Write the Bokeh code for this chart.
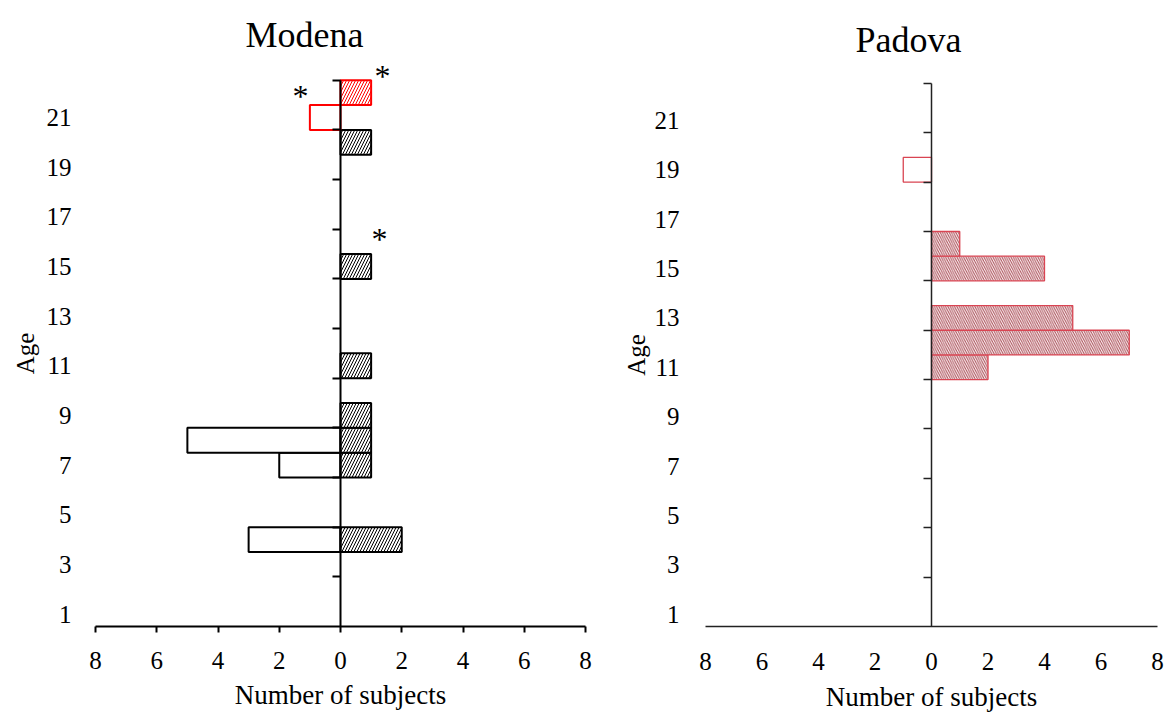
import math
from bokeh.plotting import figure
from bokeh.models import Range1d, FixedTicker, LinearAxis, Label
from bokeh.layouts import row
from bokeh.embed import file_html
from bokeh.resources import INLINE
from bokeh.core.properties import value

FONT = "Liberation Serif"

# ---- data ----
age_labels = [1, 3, 5, 7, 9, 11, 13, 15, 17, 19, 21]
age_bounds = [2.5, 4.5, 6.5, 8.5, 10.5, 12.5, 14.5, 16.5, 18.5, 20.5, 22.5]
age_lo, age_hi = 0.5, 22.5
x_lo, x_hi = -8, 8
x_ticks = [-8, -6, -4, -2, 0, 2, 4, 6, 8]
x_tick_text = ["8", "6", "4", "2", "0", "2", "4", "6", "8"]

# Modena
mod_hatch_ages = [4, 7, 8, 9, 11, 15, 20]
mod_hatch_vals = [2, 1, 1, 1, 1, 1, 1]
mod_open_ages = [4, 7, 8]
mod_open_vals = [3, 2, 5]
mod_red_hatch_ages = [22]
mod_red_hatch_vals = [1]
mod_red_open_ages = [21]
mod_red_open_vals = [1]
mod_star_x = [1.37, -1.31, 1.27]
mod_star_y = [22.7, 21.9, 16.16]

# Padova
pad_hatch_ages = [11, 12, 13, 15, 16]
pad_hatch_vals = [2, 7, 5, 4, 1]
pad_open_ages = [19]
pad_open_vals = [1]

HEIGHT = 714


def age_range(top_px, bottom_px):
    plot_h = HEIGHT - bottom_px - top_px
    ys = (age_hi - age_lo) / plot_h
    return Range1d(age_lo, age_hi + top_px * ys)


def age_title_fig(width, text_x, yr, bottom_px):
    # narrow strip holding the rotated "Age" axis title, sharing the age scale
    f = figure(width=width, height=HEIGHT, output_backend="svg", toolbar_location=None,
               x_range=Range1d(0, width), y_range=yr,
               x_axis_location=None, y_axis_location=None,
               min_border_left=0, min_border_right=0, min_border_top=0,
               min_border_bottom=bottom_px,
               background_fill_color="white", border_fill_color="white")
    f.outline_line_color = None
    f.grid.visible = False
    f.text(x=[text_x], y=[(age_lo + age_hi) / 2], text=["Age"], angle=math.pi / 2,
           text_font=value(FONT), text_font_size="25px", text_color="black",
           text_align="center", text_baseline="middle")
    return f


def base_fig(title, title_dx, title_dy, width, yr, mbl, mbr, mbb, axis_w, axis_col,
             label_standoff, xlabel_standoff, age_standoff, xtick_out):
    # the frame reaches the top of the canvas so the title and the stars above
    # the age span are not clipped; the axes are bounded to the age span
    p = figure(width=width, height=HEIGHT, output_backend="svg", toolbar_location=None,
               x_range=Range1d(x_lo, x_hi), y_range=yr,
               min_border_left=mbl, min_border_right=mbr, min_border_top=0,
               min_border_bottom=mbb,
               background_fill_color="white", border_fill_color="white")
    p.outline_line_color = None
    p.grid.visible = False
    p.add_layout(Label(x=0, y=age_hi, x_units="data", y_units="data",
                       x_offset=title_dx, y_offset=title_dy, text=title,
                       text_font=FONT, text_font_size="36px", text_color="black",
                       text_align="center", text_baseline="alphabetic"))
    # bottom axis
    xa = p.xaxis[0]
    xa.ticker = FixedTicker(ticks=x_ticks)
    xa.major_label_overrides = {t: s for t, s in zip(x_ticks, x_tick_text)}
    xa.axis_line_width = axis_w
    xa.axis_line_color = axis_col
    xa.major_tick_line_width = axis_w
    xa.major_tick_line_color = axis_col if xtick_out > 0 else None
    xa.major_tick_out = xtick_out
    xa.major_tick_in = 0
    xa.minor_tick_line_color = None
    xa.major_label_text_font = FONT
    xa.major_label_text_font_size = "25px"
    xa.major_label_text_color = "black"
    xa.major_label_standoff = label_standoff
    xa.axis_label = "Number of subjects"
    xa.axis_label_text_font = FONT
    xa.axis_label_text_font_size = "27px"
    xa.axis_label_text_font_style = "normal"
    xa.axis_label_text_color = "black"
    xa.axis_label_standoff = xlabel_standoff
    # left age tick labels
    ya = p.yaxis[0]
    ya.ticker = FixedTicker(ticks=age_labels)
    ya.axis_line_color = None
    ya.major_tick_line_color = None
    ya.minor_tick_line_color = None
    ya.major_tick_out = 0
    ya.major_tick_in = 0
    ya.major_label_standoff = age_standoff
    ya.major_label_text_font = FONT
    ya.major_label_text_font_size = "25px"
    ya.major_label_text_color = "black"
    # central vertical axis at x = 0 (ticks only, no labels)
    ca = LinearAxis(fixed_location=0, bounds=(age_lo, age_hi), ticker=FixedTicker(ticks=age_bounds),
                    axis_line_width=axis_w, axis_line_color=axis_col,
                    major_tick_line_width=axis_w, major_tick_line_color=axis_col,
                    major_tick_in=8, major_tick_out=0, minor_tick_line_color=None,
                    major_label_text_color=None, major_label_text_font_size="1px",
                    major_label_standoff=0)
    p.add_layout(ca, "right")
    return p


# ---- Modena ----
yr1 = age_range(80, 86)
a1 = age_title_fig(42, 25, yr1, 86)
p1 = base_fig("Modena", -36, 45, 558, yr1, 53, 15, 86, 2, "black", 19, 8, 24, 6)
p1.hbar(y=mod_open_ages, left=[-v for v in mod_open_vals], right=0, height=1,
        fill_color="white", line_color="black", line_width=2)
p1.hbar(y=mod_hatch_ages, left=0, right=mod_hatch_vals, height=1,
        fill_color="white", line_color="black", line_width=2,
        hatch_pattern="/", hatch_color="black", hatch_scale=6, hatch_weight=1)
p1.hbar(y=mod_red_open_ages, left=[-v for v in mod_red_open_vals], right=0, height=1,
        fill_color="white", line_color="#ff0000", line_width=2)
p1.hbar(y=mod_red_hatch_ages, left=0, right=mod_red_hatch_vals, height=1,
        fill_color="white", line_color="#ff0000", line_width=2,
        hatch_pattern="/", hatch_color="#ff0000", hatch_scale=6, hatch_weight=1)
p1.text(x=mod_star_x, y=mod_star_y, text=["*"] * len(mod_star_x),
        text_font=value(FONT), text_font_size="32px", text_color="black",
        text_align="center", text_baseline="alphabetic", y_offset=1)

# ---- Padova ----
PAD_LINE = "#d94452"
PAD_HATCH = "#a8505a"
yr2 = age_range(83, 87)
a2 = age_title_fig(51, 36, yr2, 87)
p2 = base_fig("Padova", -23, 43, 517, yr2, 54, 11, 87, 1.5, "#222222", 26, 9, 26, 0)
p2.hbar(y=pad_open_ages, left=[-v for v in pad_open_vals], right=0, height=1,
        fill_color="white", line_color=PAD_LINE, line_width=1.3)
p2.hbar(y=pad_hatch_ages, left=0, right=pad_hatch_vals, height=1,
        fill_color="#fff4f4", line_color=PAD_LINE, line_width=1.3,
        hatch_pattern="\\", hatch_color=PAD_HATCH, hatch_scale=4.5, hatch_weight=1)

layout = row(a1, p1, a2, p2)
open("out.html", "w").write(file_html(layout, INLINE))
